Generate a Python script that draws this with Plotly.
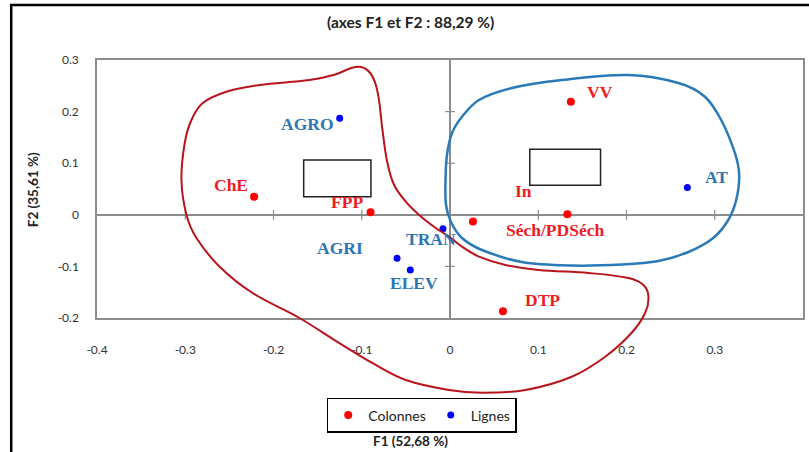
import math
import plotly.graph_objects as go

# ---------------- data ----------------
x_range = [-0.4, 0.4]
y_range = [-0.2, 0.3]
x_tickvals = [-0.4, -0.3, -0.2, -0.1, 0, 0.1, 0.2, 0.3, 0.4]
x_ticktext = ["-0.4", "-0.3", "-0.2", "-0.1", "0", "0.1", "0.2", "0.3", "0.4"]
y_tickvals = [-0.2, -0.1, 0, 0.1, 0.2, 0.3]
y_ticktext = ["-0.2", "-0.1", "0", "0.1", "0.2", "0.3"]

col_names = ["VV", "In", "Séch/PDSéch", "DTP", "ChE", "FPP"]
col_f1 = [0.137, 0.026, 0.133, 0.060, -0.222, -0.090]
col_f2 = [0.219, -0.013, 0.001, -0.187, 0.035, 0.005]

lig_names = ["AGRO", "AT", "TRAN", "AGRI", "ELEV"]
lig_f1 = [-0.125, 0.269, -0.008, -0.060, -0.045]
lig_f2 = [0.187, 0.053, -0.027, -0.084, -0.107]

title_text = "(axes F1 et F2 : 88,29 %)"
xtitle_text = "F1 (52,68 %)"
ytitle_text = "F2 (35,61 %)"

# hand-drawn outlines (in F1/F2 units)
red_outline = [(-0.1006, 0.2864), (-0.0904, 0.2748), (-0.0840, 0.2516), (-0.0802, 0.2192),
               (-0.0768, 0.1682), (-0.0712, 0.1029), (-0.0633, 0.0578), (-0.0501, 0.0254),
               (-0.0350, -0.0004), (-0.0162, -0.0256), (-0.0011, -0.0424), (0.0136, -0.0618),
               (0.0328, -0.0812), (0.0629, -0.0973), (0.1006, -0.1070), (0.1571, -0.1128),
               (0.2023, -0.1225), (0.2192, -0.1360), (0.2249, -0.1587), (0.2211, -0.1903),
               (0.2056, -0.2291), (0.1759, -0.2750), (0.1379, -0.3138), (0.0855, -0.3395),
               (0.0362, -0.3448), (-0.0011, -0.3395), (-0.0501, -0.3202), (-0.0881, -0.2872),
               (-0.1254, -0.2485), (-0.1706, -0.2000), (-0.2237, -0.1516), (-0.2610, -0.1006),
               (-0.2873, -0.0450), (-0.2986, -0.0004), (-0.3043, 0.0674), (-0.3006, 0.1391),
               (-0.2930, 0.1837), (-0.2802, 0.2167), (-0.2534, 0.2386), (-0.2158, 0.2516),
               (-0.1593, 0.2612), (-0.1299, 0.2719), (-0.1119, 0.2845)]
blue_outline = [(0.2023, 0.2709), (0.2588, 0.2554), (0.2889, 0.2289), (0.3073, 0.1837),
                (0.3228, 0.1198), (0.3277, 0.0771), (0.3243, 0.0287), (0.3153, -0.0101),
                (0.2983, -0.0450), (0.2701, -0.0721), (0.2362, -0.0895), (0.1944, -0.0963),
                (0.1379, -0.0983), (0.0814, -0.0915), (0.0362, -0.0682), (0.0136, -0.0450),
                (0.0011, -0.0140), (-0.0045, 0.0190), (-0.0051, 0.0674), (-0.0034, 0.1159),
                (0.0023, 0.1585), (0.0136, 0.1901), (0.0328, 0.2225), (0.0701, 0.2457),
                (0.1266, 0.2612)]
boxes = [(-0.1658, 0.0351, -0.0896, 0.1062), (0.0904, 0.0572, 0.1706, 0.1269)]

# label offsets in pixels (dx right, dy down)
label_offsets = {
    "VV": (29, -10), "In": (51, -31), "Séch/PDSéch": (-12, 16), "DTP": (40, -11),
    "ChE": (-23, -12), "FPP": (-24, -10),
    "AGRO": (-32, 6), "AT": (29, -10), "TRAN": (-12, 10), "AGRI": (-57, -10), "ELEV": (4, 13),
}

RED = "#FF0000"
BLUE = "#0000FF"
RED_LBL = "#EE1C25"
BLUE_LBL = "#2E75B6"
GRAY = "#8C8C8C"

PLOT_W, PLOT_H = 708, 258

fig = go.Figure()
fig.add_trace(go.Scatter(x=col_f1, y=col_f2, mode="markers", name="Colonnes",
                         marker=dict(color=RED, size=8), hoverinfo="skip"))
fig.add_trace(go.Scatter(x=lig_f1, y=lig_f2, mode="markers", name="Lignes",
                         marker=dict(color=BLUE, size=7), hoverinfo="skip"))

ann = []
for names, xs, ys, c in [(col_names, col_f1, col_f2, RED_LBL), (lig_names, lig_f1, lig_f2, BLUE_LBL)]:
    for n, x, y in zip(names, xs, ys):
        dx, dy = label_offsets[n]
        ann.append(dict(x=x, y=y, xref="x", yref="y", text=n, showarrow=False,
                        xshift=dx, yshift=-dy,
                        font=dict(family="Liberation Serif", size=17.5, color=c, weight="bold")))


def to_px(pt):
    x, y = pt
    return ((x - x_range[0]) / (x_range[1] - x_range[0]) * PLOT_W,
            (y - y_range[0]) / (y_range[1] - y_range[0]) * PLOT_H)


def smooth_closed_path(pts):
    p = [to_px(q) for q in pts]
    n = len(p)

    def dist(a, b):
        return math.hypot(a[0] - b[0], a[1] - b[1])

    tang = []
    for i in range(n):
        a, b, c = p[i - 1], p[i], p[(i + 1) % n]
        tang.append(((c[0] - a[0]) / (dist(a, b) + dist(b, c)),
                     (c[1] - a[1]) / (dist(a, b) + dist(b, c))))

    def P(q):
        return (q[0] / PLOT_W, q[1] / PLOT_H)

    d = "M %.5f,%.5f" % P(p[0])
    for i in range(n):
        j = (i + 1) % n
        L = dist(p[i], p[j]) / 3
        c1 = (p[i][0] + tang[i][0] * L, p[i][1] + tang[i][1] * L)
        c2 = (p[j][0] - tang[j][0] * L, p[j][1] - tang[j][1] * L)
        d += " C %.5f,%.5f %.5f,%.5f %.5f,%.5f" % (P(c1) + P(c2) + P(p[j]))
    return d + " Z"


shapes = []
# outer chart frame
shapes.append(dict(type="rect", xref="paper", yref="paper", x0=-0.1215, x1=1.02, y0=-0.56, y1=1.2132,
                   line=dict(color="black", width=2.5), layer="below"))
# tick crosses on the zero axes
for t in x_tickvals[1:-1]:
    if t != 0:
        shapes.append(dict(type="line", xref="x", yref="y", x0=t, x1=t, y0=-0.0097, y1=0.0097,
                           line=dict(color=GRAY, width=1.2)))
for t in y_tickvals[1:-1]:
    if t != 0:
        shapes.append(dict(type="line", xref="x", yref="y", y0=t, y1=t, x0=-0.0056, x1=0.0056,
                           line=dict(color=GRAY, width=1.2)))
for (x0, y0, x1, y1) in boxes:
    shapes.append(dict(type="rect", xref="x", yref="y", x0=x0, x1=x1, y0=y0, y1=y1,
                       line=dict(color="#222222", width=1.5), fillcolor="white"))
shapes.append(dict(type="path", xref="paper", yref="paper", path=smooth_closed_path(red_outline),
                   line=dict(color="#B8141C", width=2)))
shapes.append(dict(type="path", xref="paper", yref="paper", path=smooth_closed_path(blue_outline),
                   line=dict(color="#2A7AB8", width=2.5)))

ann.append(dict(text=title_text, xref="paper", yref="paper", x=0.4435, y=1.147, showarrow=False,
                xanchor="center", yanchor="middle",
                font=dict(family="Lato", size=15.5, color="#222222", weight="bold")))
ann.append(dict(text=xtitle_text, xref="paper", yref="paper", x=0.444, y=-0.477, showarrow=False,
                xanchor="center", yanchor="middle",
                font=dict(family="Lato", size=13.5, color="#222222", weight="bold")))
ann.append(dict(text=ytitle_text, xref="paper", yref="paper", x=-0.0904, y=0.496, showarrow=False,
                xanchor="center", yanchor="middle", textangle=-90,
                font=dict(family="Lato", size=13.5, color="#222222", weight="bold")))

axis_common = dict(showgrid=False, zeroline=True, zerolinecolor=GRAY, zerolinewidth=1.5,
                   showline=True, linecolor=GRAY, linewidth=1.5, mirror=True, ticks="",
                   tickfont=dict(family="Lato", size=12, color="#333333"), fixedrange=True)

fig.update_layout(
    width=809, height=452,
    margin=dict(l=97, r=4, t=60, b=134),
    paper_bgcolor="white", plot_bgcolor="white",
    xaxis=dict(range=x_range, tickvals=x_tickvals, ticktext=x_ticktext, ticklabelstandoff=20,
               **axis_common),
    yaxis=dict(range=y_range, tickvals=y_tickvals, ticktext=y_ticktext, ticklabelstandoff=14,
               **axis_common),
    showlegend=True,
    legend=dict(orientation="h", x=0.46, xanchor="center", y=-0.31, yanchor="top",
                bordercolor="black", borderwidth=1.5, bgcolor="white",
                font=dict(family="Lato", size=14, color="#222222")),
    shapes=shapes,
    annotations=ann,
)

fig.write_html("out.html")
